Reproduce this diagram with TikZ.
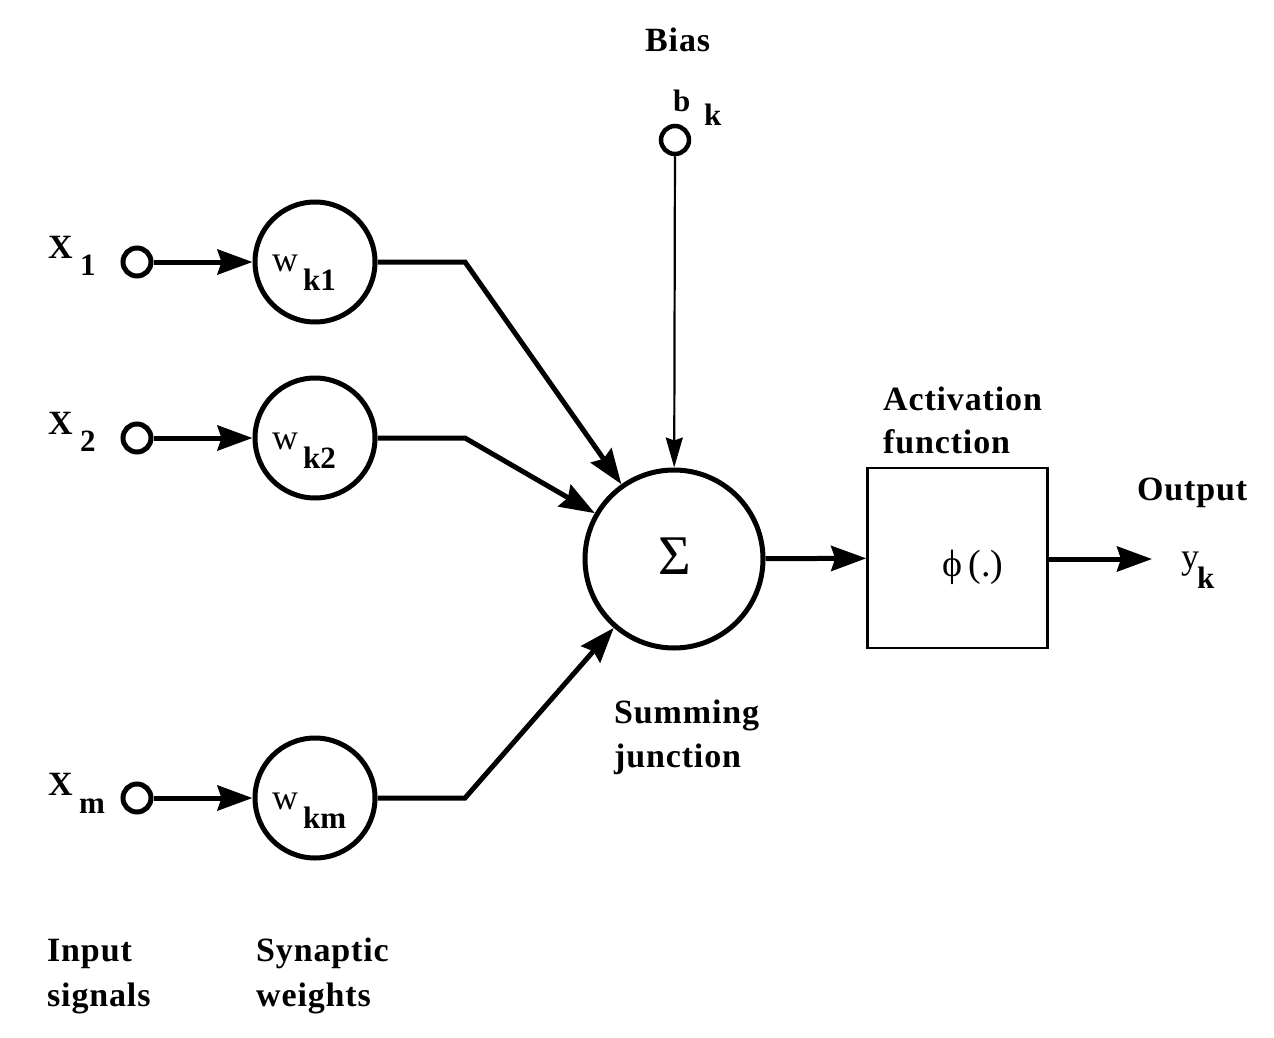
\documentclass[tikz,border=0pt]{standalone}
\usepackage{fontspec}
\setmainfont{Liberation Serif}
\newfontfamily\trkfont[LetterSpace=2.5]{Liberation Serif}
\usetikzlibrary{arrows.meta}
\begin{document}
\begin{tikzpicture}[x=1pt,y=-1pt,
  inc/.style={circle,draw,line width=5pt,minimum size=28pt,inner sep=0pt},
  wc/.style={circle,draw,line width=5pt,minimum size=120pt,inner sep=0pt},
  sig/.style={line width=5pt,-{Stealth[length=35pt,width=25pt,inset=4pt]}},
  thinsig/.style={line width=2.2pt,-{Stealth[length=30pt,width=17pt,inset=3pt]}},
  lbl/.style={inner sep=0pt,anchor=base west,font=\fontsize{34}{38}\trkfont\bfseries},
  xl/.style={inner sep=0pt,anchor=base west,font=\fontsize{34}{38}\selectfont\bfseries},
  sub/.style={inner sep=0pt,anchor=base west,font=\fontsize{31}{34}\selectfont\bfseries},
  wl/.style={inner sep=0pt,anchor=base west,font=\fontsize{36}{40}\selectfont}]
\useasboundingbox (0,0) rectangle (1274,1038);
\fill[white] (0,0) rectangle (1274,1038);

% input terminals
\node[inc] (x1) at (137,262) {};
\node[inc] (x2) at (137,438) {};
\node[inc] (xm) at (137,798) {};
% weights
\node[wc] (w1) at (315,262) {};
\node[wc] (w2) at (315,438) {};
\node[wc] (wm) at (315,798) {};
% summing junction
\node[circle,draw,line width=5pt,minimum size=178pt,inner sep=0pt] (sum) at (674,559) {};
\node[inner sep=0pt,font=\fontsize{56}{60}\selectfont] (sigma) at (675,556) {\symbol{"03A3}};
% bias
\node[inc,line width=4.5pt] (bias) at (675,140) {};
% activation box
\node[draw,line width=2.6pt,minimum width=180pt,minimum height=180pt,inner sep=0pt] (box) at (957.5,558) {};
\node[inner sep=0pt,font=\fontsize{38}{42}\selectfont] (phi) at (973,567) {\symbol{"03D5}\,(.)};
\coordinate (out) at (1152,559);

% bends
\coordinate (b1) at (465,262);
\coordinate (b2) at (465,438);
\coordinate (bm) at (465,798);

% connectors
\draw[sig] (x1) -- (w1);
\draw[sig] (x2) -- (w2);
\draw[sig] (xm) -- (wm);
\draw[sig] (w1.east) -- (b1) -- (sum);
\draw[sig] (w2.east) -- (b2) -- (sum);
\draw[sig] (wm.east) -- (bm) -- (sum);
\draw[thinsig] (bias) -- (sum);
\draw[sig] (sum) -- (box);
\draw[sig] (box.east |- out) -- (out);

% labels: inputs
\node[xl] (lx1) at (48,258) {X};
\node[sub] (lx1s) at (80,275) {1};
\node[xl] (lx2) at (48,434) {X};
\node[sub] (lx2s) at (80,451) {2};
\node[xl] (lxm) at (48,795) {X};
\node[sub] (lxms) at (79,813) {m};
% labels: weights
\node[wl] (lw1) at (272,271) {w};
\node[sub] (lw1s) at (303,290) {k1};
\node[wl] (lw2) at (272,449) {w};
\node[sub] (lw2s) at (303,468) {k2};
\node[wl] (lwm) at (272,809) {w};
\node[sub] (lwms) at (303,828) {km};
% bias labels
\node[lbl] (lbias) at (645,52) {Bias};
\node[sub] (lb) at (673,112) {b};
\node[sub] (lk) at (704,126) {k};
% sum labels
\node[lbl] (lsum1) at (614,723) {Summing};
\node[lbl] (lsum2) at (614,767) {junction};
% activation labels
\node[lbl] (lact1) at (883,410) {Activation};
\node[lbl] (lact2) at (883,453) {function};
% output labels
\node[lbl] (lout) at (1137,500) {Output};
\node[wl] (ly) at (1181,568) {y};
\node[sub] (lyk) at (1197,588) {k};
% bottom labels
\node[lbl] (lin1) at (47,961) {Input};
\node[lbl] (lin2) at (47,1006) {signals};
\node[lbl] (lsy1) at (256,961) {Synaptic};
\node[lbl] (lsy2) at (256,1006) {weights};
\end{tikzpicture}
\end{document}
